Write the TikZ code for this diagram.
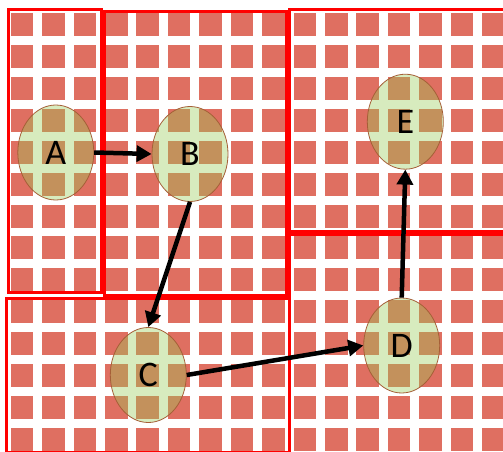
\documentclass[tikz,border=0pt]{standalone}
\usepackage{fontspec}
\setmainfont{Carlito}
\usetikzlibrary{shapes.geometric,arrows.meta}

\definecolor{tilered}{RGB}{223,111,97}
\definecolor{zonered}{RGB}{255,0,0}
\definecolor{bubblefill}{RGB}{150,202,84}
\definecolor{bubbleedge}{RGB}{165,95,55}

\tikzset{
  tile/.style={fill=tilered},
  zone/.style={draw=zonered, line width=3pt},
  bubble/.style={ellipse, draw=bubbleedge, line width=0.8pt,
    fill=bubblefill, fill opacity=0.38, text opacity=1,
    minimum width=76pt, minimum height=95pt, inner sep=0pt,
    font=\fontsize{36}{36}\selectfont},
  link/.style={draw=black, line width=4.5pt,
    -{Triangle[length=15pt,width=16pt]}},
}

\begin{document}
\begin{tikzpicture}[x=1pt,y=-1pt]
  \useasboundingbox (0,0) rectangle (503,452);
  \clip (0,0) rectangle (503,452);

  % background grid of tiles
  \foreach \i in {0,...,15}
    \foreach \j in {0,...,13}
      \fill[tile] ({22+31.43*\i-11.25},{25+31.85*\j-11.5}) rectangle ++(22.5,23);

  % red zone outlines
  \draw[zone] (8.5,10) rectangle (101.5,292);
  \draw[zone] (104.5,12) rectangle (286.5,295);
  \draw[zone] (6,298) rectangle (289.5,452);
  \draw[zone] (289.5,10) rectangle (506,231.5);
  \draw[zone] (289.5,234.5) rectangle (506,456);

  % nodes
  \node[bubble] (A) at (55.8,152.5) {A};
  \node[bubble] (B) at (190,154) {B};
  \node[bubble] (C) at (148.3,375) {C};
  \node[bubble] (D) at (401.7,345.5) {D};
  \node[bubble] (E) at (405.3,121.7) {E};

  % connectors
  \draw[link] (A.east) -- (B.west);
  \draw[link] (B.south) -- (C.north);
  \draw[link] (C.east) -- (D.west);
  \draw[link] (D.north) -- (E.south);
\end{tikzpicture}
\end{document}
